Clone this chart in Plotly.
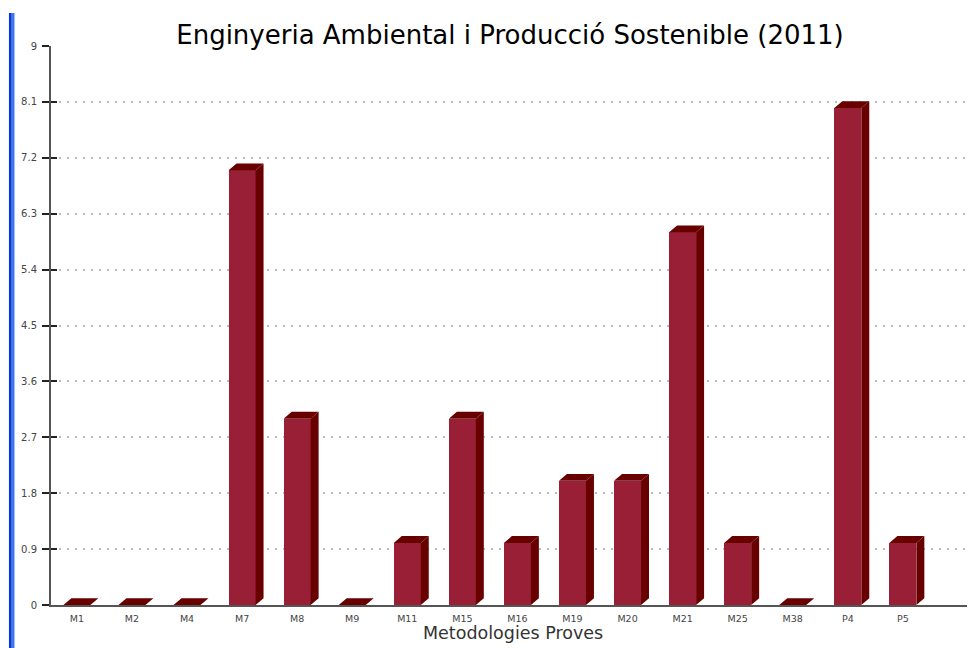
import plotly.graph_objects as go

categories = ["M1", "M2", "M4", "M7", "M8", "M9", "M11", "M15", "M16",
              "M19", "M20", "M21", "M25", "M38", "P4", "P5"]
values = [0, 0, 0, 7, 3, 0, 1, 3, 1, 2, 2, 6, 1, 0, 8, 1]
y_tick_vals = [0, 0.9, 1.8, 2.7, 3.6, 4.5, 5.4, 6.3, 7.2, 8.1, 9]
y_tick_text = ["0", "0.9", "1.8", "2.7", "3.6", "4.5", "5.4", "6.3", "7.2", "8.1", "9"]

title_text = "Enginyeria Ambiental i Producció Sostenible (2011)"
x_title = "Metodologies Proves"

FRONT = "#981f35"
DARK = "#690000"

# 3D bar geometry (in axis units)
hw = 0.245
dx = 0.145
dy = 0.11

idx = list(range(len(categories)))

top_x, top_y, side_x, side_y = [], [], [], []
for i, v in zip(idx, values):
    x0, x1 = i - hw, i + hw
    top_x += [x0, x1, x1 + dx, x0 + dx, x0, None]
    top_y += [v, v, v + dy, v + dy, v, None]
    if v > 0:
        side_x += [x1, x1 + dx, x1 + dx, x1, x1, None]
        side_y += [0, dy, v + dy, v, 0, None]

fig = go.Figure()
fig.add_trace(go.Bar(x=idx, y=values, width=2 * hw, marker=dict(color=FRONT, line=dict(width=0)),
                     hoverinfo="x+y", showlegend=False))
fig.add_trace(go.Scatter(x=side_x, y=side_y, fill="toself", fillcolor=DARK, mode="lines",
                         line=dict(width=0, color=DARK), hoverinfo="skip", showlegend=False))
fig.add_trace(go.Scatter(x=top_x, y=top_y, fill="toself", fillcolor=DARK, mode="lines",
                         line=dict(width=0, color=DARK), hoverinfo="skip", showlegend=False))
# invisible trace for the secondary y axis (inner tick marks)
fig.add_trace(go.Scatter(x=[None], y=[None], yaxis="y2", showlegend=False, hoverinfo="skip"))

W, H = 967, 640
B = 43
fig.update_layout(
    width=W, height=H,
    margin=dict(l=43, r=0, t=38, b=B, autoexpand=False),
    paper_bgcolor="white", plot_bgcolor="white",
    font=dict(family="DejaVu Sans", color="#444"),
    title=dict(text=title_text, x=502 / W, xanchor="center", y=1 - 27 / H, yanchor="middle",
               yref="container", automargin=False,
               font=dict(family="DejaVu Sans", size=26, color="#000")),
    bargap=0,
    xaxis=dict(range=[-0.47, 16.31], tickmode="array", tickvals=idx, ticktext=categories,
               showgrid=False, zeroline=False, showline=True, linecolor="#555", linewidth=2,
               ticks="", tickfont=dict(size=9.5, color="#444"), automargin=False,
               ticklabelstandoff=4, fixedrange=True),
    yaxis=dict(range=[0, 9], tickmode="array", tickvals=y_tick_vals, ticktext=y_tick_text,
               showgrid=True, gridcolor="#bbbbbb", griddash="2px,6px", gridwidth=1.5,
               zeroline=False, showline=True, linecolor="#555", linewidth=2,
               ticks="outside", ticklen=7, tickwidth=2, tickcolor="#222", automargin=False,
               tickfont=dict(size=10, color="#444"), ticklabelstandoff=3, fixedrange=True),
    yaxis2=dict(range=[0, 9], overlaying="y", side="left", tickmode="array",
                tickvals=y_tick_vals, ticks="inside", ticklen=6, tickwidth=2, tickcolor="#222",
                showticklabels=False, showgrid=False, zeroline=False, showline=False,
                automargin=False, fixedrange=True),
    annotations=[
        dict(text=x_title, xref="paper", yref="paper", x=0.5, xanchor="center",
             y=-(633 - 8 - (H - B)) / (H - 38 - B), yanchor="middle", showarrow=False,
             font=dict(family="DejaVu Sans", size=17.5, color="#333")),
    ],
    shapes=[
        dict(type="rect", xref="paper", yref="paper", x0=-0.0455, x1=-0.0425,
             y0=-0.077, y1=1.059, fillcolor="#0a36d6", line=dict(width=0), layer="above"),
        dict(type="rect", xref="paper", yref="paper", x0=-0.0425, x1=-0.0395,
             y0=-0.077, y1=1.059, fillcolor="#3b78f2", line=dict(width=0), layer="above"),
    ],
)

fig.write_html("out.html")
